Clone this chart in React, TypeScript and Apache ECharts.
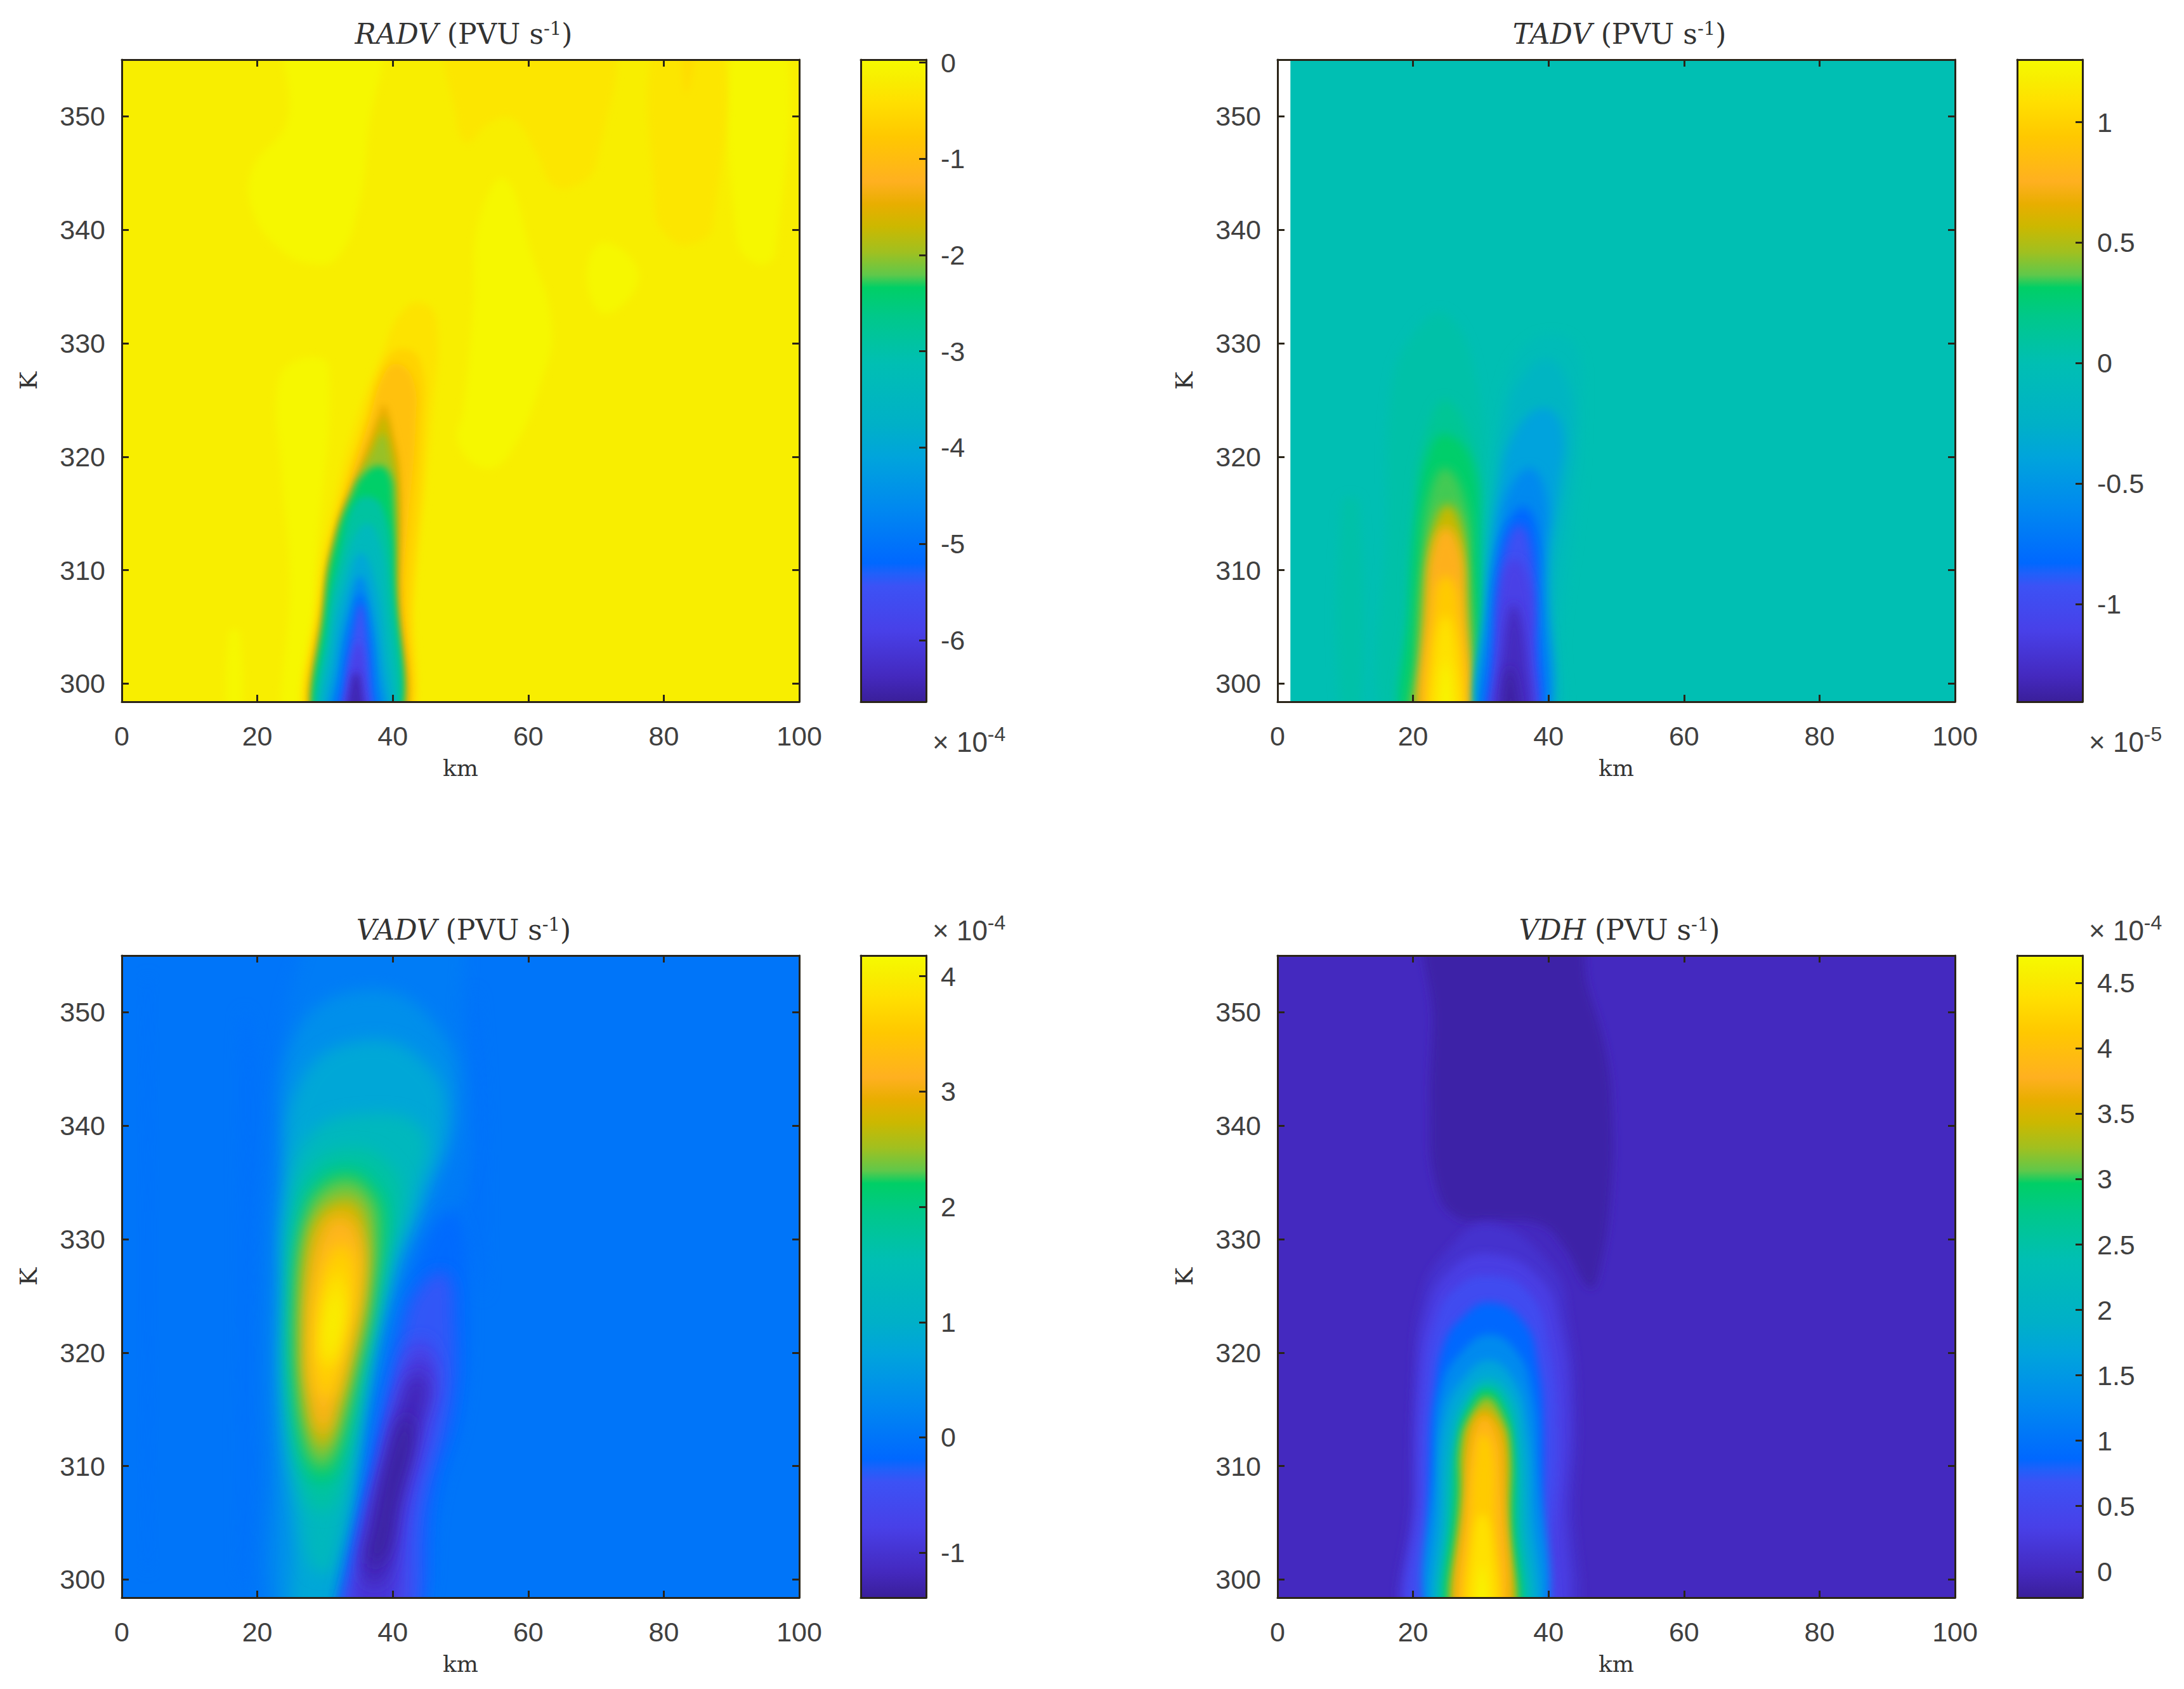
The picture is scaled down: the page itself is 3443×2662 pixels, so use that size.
import React, { useEffect, useRef } from "react";
import * as echarts from "echarts";

type Pt = [number, number];

const xTicks = [0, 20, 40, 60, 80, 100];
const kTicks = [300, 310, 320, 330, 340, 350];
const kMin = 298.4;
const kMax = 355;

const colorStops: [number, string][] = [
  [0, "#3a1f9a"], [0.04, "#4429bf"], [0.11, "#4840e8"], [0.18, "#3c52f5"], [0.2, "#1f60fa"],
  [0.216, "#0068ff"], [0.3, "#0088f0"], [0.38, "#00a4dc"], [0.43, "#00b0c8"], [0.527, "#00bfb3"],
  [0.6, "#00c88a"], [0.645, "#00cf66"], [0.665, "#60c84a"], [0.7, "#a0c020"], [0.74, "#ccb800"],
  [0.775, "#e8ae00"], [0.81, "#ffb020"], [0.88, "#ffc800"], [0.935, "#ffe000"], [0.97, "#f8ee00"], [1, "#f6fa00"],
];

// RADV (x 1e-4)
const radvRange = [-6.64, 0.03];
const radvTicks = [-6, -5, -4, -3, -2, -1, 0];
const radvBg = -0.17;
const radvLevels = [
  -0.02, -0.02, -0.02, -0.02, -0.02, -0.02, -0.3, -0.3, -0.45,
  -0.35, -0.6, -0.9, -1.45, -1.75, -2.0, -2.35, -2.9, -3.4, -4, -4.6, -5.1, -5.45, -5.9, -6.45,
];
const radvContours: Pt[][] = [
  [[24.8, 358], [24.4, 349.6], [19.3, 345.4], [19.3, 341.7], [23.2, 338.4], [27.9, 337], [31.7, 337.5], [34.8, 341.7], [36.4, 348.7], [37.6, 358]],
  [[56.5, 344.5], [52.7, 340.8], [51.9, 333.3], [50.4, 324], [49.6, 321.3], [53.5, 319], [57.3, 320.3], [62, 326.8], [63.5, 331.5], [60.4, 338]],
  [[71.3, 338.9], [68.6, 336.1], [71.3, 332.6], [76.3, 335.9]],
  [[27.1, 328.7], [23.2, 326.8], [23.6, 318.5], [24.8, 309.2], [24, 295], [29, 295], [28.6, 309], [30.6, 327.8]],
  [[15.8, 295], [15.8, 304.5], [17.4, 304.5], [17.4, 295]],
  [[90.7, 358], [90.7, 339.4], [93.8, 337], [96.5, 338], [97.7, 358]],
  [[49.2, 358], [49.6, 349], [51.1, 347.7], [54.2, 349.4], [57.7, 349.8], [61.2, 346.8], [63.5, 344], [66.6, 343.8], [70.1, 345.9], [70.9, 358]],
  [[79.4, 358], [78.7, 341.7], [80.6, 339.4], [83.7, 338.7], [87.2, 340.3], [88, 358]],
  [[82.9, 358], [83.3, 352], [84.9, 358]],
  [[28, 295], [28.8, 308], [31.7, 317], [34.8, 323.6], [38.7, 329.5], [41, 332.5], [44, 333.6], [46.5, 332], [45.7, 323], [43.2, 308], [41.4, 295]],
  [[28.6, 295], [29.6, 308], [32.5, 316.5], [35.8, 323], [38.5, 328], [41, 329.5], [44, 328.5], [44.6, 323], [42.8, 308], [41, 295]],
  [[29, 295], [30.2, 309.2], [33.3, 317], [36.4, 323], [38.7, 327.3], [40.7, 328.2], [43, 326.8], [43.4, 323], [42.2, 313.8], [41.6, 309.2], [40.7, 295]],
  [[29.1, 295], [29.9, 306.9], [31.9, 313.8], [34.8, 318.5], [37.5, 323], [38.7, 324.6], [39.9, 322.5], [41, 318.5], [41, 309], [40.5, 295]],
  [[29.2, 295], [30, 307], [32, 313.5], [35, 318], [37.5, 322], [38.7, 323.5], [39.7, 321.5], [40.7, 318], [40.7, 309], [40.4, 295]],
  [[29.3, 295], [30.1, 307.5], [31.8, 313], [34.3, 317.5], [37, 320.5], [38.5, 322], [39.5, 320.5], [40.4, 317], [40.3, 309], [40.1, 295]],
  [[29.4, 295], [30.2, 307.8], [31.7, 312.9], [34.1, 316.8], [35.5, 318.3], [37.9, 319.2], [39.5, 318.5], [40.1, 316.2], [40.3, 309.2], [39.9, 295]],
  [[29.6, 295], [30.4, 306], [32.3, 312], [34, 315.5], [36, 316.5], [38.5, 315.5], [39.9, 310], [39.7, 295]],
  [[30, 295], [30.8, 305], [32.8, 310.5], [35.5, 314], [37.5, 313.5], [39.2, 308], [39.3, 295]],
  [[30.5, 295], [31.3, 304], [33.3, 309], [35.2, 311.5], [36.9, 310], [38.6, 304], [38.8, 295]],
  [[31, 295], [31.9, 302], [33.8, 307.5], [35.2, 309.5], [36.5, 307.5], [37.9, 302], [38.2, 295]],
  [[31.6, 295], [32.4, 301], [34.2, 306.5], [35.2, 308], [36.2, 306], [37.4, 300], [37.6, 295]],
  [[32.2, 295], [32.9, 300], [34.5, 305.5], [35.3, 307], [36, 305], [36.7, 300], [37, 295]],
  [[32.8, 295], [33.4, 300], [34.7, 303.5], [35.2, 303.5], [36, 300], [36.3, 295]],
  [[33.2, 295], [33.8, 300], [34.6, 301], [35.3, 300], [35.7, 295]],
];

// TADV (x 1e-5)
const tadvRange = [-1.406, 1.26];
const tadvTicks = [-1, -0.5, 0, 0.5, 1];
const tadvBg = 0;
const tadvLevels = [
  0.05, 0.05, 0.14, 0.3, 0.35, 0.55, 0.75, 0.95, 1.1, 1.24,
  -0.06, -0.18, -0.4, -0.6, -0.83, -0.95, -1.12, -1.3, -1.38,
];
const tadvContours: Pt[][] = [
  [[9.5, 295], [9.5, 316], [12, 316], [12, 295]],
  [[24.9, 332.6], [19.1, 330], [16.6, 325], [16.1, 315], [16.5, 295], [29.5, 295], [30.3, 315], [29.9, 325]],
  [[24.9, 325], [21.6, 321.5], [20, 315], [19.2, 307], [19, 295], [29.8, 295], [30, 312], [29.2, 320]],
  [[24.8, 322], [22.4, 320.5], [20.7, 315], [19.7, 307.6], [19.5, 295], [29.5, 295], [29.5, 312.6], [28.7, 319.5]],
  [[24.8, 319], [22.4, 316.6], [21.2, 311.3], [20.3, 302.6], [20.2, 295], [28.7, 295], [28.5, 310], [27.8, 315.8]],
  [[25.1, 315.8], [23.2, 314.2], [22, 310], [21.4, 302.6], [21, 295], [28.3, 295], [28, 302.6], [27.8, 310], [27, 314.2]],
  [[24.8, 313.8], [22.8, 311.8], [22, 307.6], [21.6, 295], [27.8, 295], [27.6, 307.6], [27, 311.8]],
  [[24.8, 309.5], [23.2, 307.6], [22.6, 295], [27, 295], [26.6, 307.6]],
  [[24.8, 306], [23.2, 302.6], [23, 295], [26.6, 295], [26.4, 302.6]],
  [[24.8, 302], [24.1, 295], [25.8, 295]],
  [[40.4, 330.8], [36.2, 329.6], [33.7, 327], [32.4, 322.6], [31.6, 315], [30.8, 307], [30.3, 295], [40.8, 295], [42, 305], [44.1, 315], [45, 325], [44.1, 329.6]],
  [[39.9, 328.6], [35.8, 326.8], [33.7, 323.8], [32.2, 317.6], [31.2, 307.6], [30.8, 295], [39.9, 295], [40.8, 307.6], [42.4, 315], [43.7, 321.3], [42.9, 326.3]],
  [[39.1, 324.3], [34.9, 322], [32.8, 317.6], [31.2, 310], [30.6, 295], [39.1, 295], [39.9, 310], [41.6, 317.6], [42, 322.6]],
  [[37.4, 319], [34.1, 317], [32.4, 312.6], [31.2, 307.6], [30.8, 295], [39.1, 295], [39.5, 311.3], [39.7, 316.3]],
  [[36.4, 315.6], [34.1, 314.3], [32.6, 311.3], [31.6, 305], [31, 295], [38.3, 295], [38.5, 307.6], [38.3, 313.6]],
  [[35.8, 314], [33.7, 312.1], [32.6, 307.6], [31.6, 300], [31.2, 295], [37.6, 295], [38, 305], [37.6, 311.3]],
  [[35.1, 311], [33.1, 309], [32.4, 302.6], [31.8, 295], [37.2, 295], [37.6, 302.6], [37.4, 308]],
  [[34.9, 307], [33.5, 304], [32.7, 295], [36.8, 295], [36.6, 303]],
  [[34.3, 301.5], [33.3, 295], [35.8, 295]],
];

// VADV (x 1e-4)
const vadvRange = [-1.39, 4.18];
const vadvTicks = [-1, 0, 1, 2, 3, 4];
const vadvBg = 0;
const vadvLevels = [
  -0.09, -0.06, -0.06,
  0.1, 0.4, 0.8, 1.3, 1.7, 2.1, 2.35, 2.8, 3.2, 3.6, 3.9, 4.1,
  -0.15, -0.35, -0.7, -0.95, -1.2, -1.36,
];
const vadvContours: Pt[][] = [
  [[3.5, 353], [4.2, 353], [4.2, 301], [3.5, 301]],
  [[17.8, 350], [19.8, 346], [19, 320], [18.8, 300], [17.6, 300], [17.6, 330]],
  [[52, 352], [53.6, 340], [53.4, 325], [52, 330]],
  [[29.4, 358], [48.2, 358], [50.3, 349], [51.5, 341.5], [50.3, 334], [45.7, 330.2], [41.1, 322.7], [36.5, 311.5], [32.7, 295], [22.3, 295], [21, 311.5], [21, 326.5], [21.9, 337.7], [24, 349], [26, 354]],
  [[36.5, 352], [25.6, 348], [23.6, 335.8], [22.7, 326.5], [22.7, 311.5], [24, 295], [31.9, 295], [36.5, 315.2], [40.7, 326.5], [45.7, 334], [49.4, 341.5], [46.9, 348.5]],
  [[35.7, 347.5], [26.5, 344], [24, 334], [23.6, 326.5], [23.6, 315.2], [25.2, 304], [26, 295], [31.5, 295], [35.7, 315.2], [39.8, 326.5], [44, 333.2], [47.8, 340.5], [44.9, 345.5]],
  [[35.2, 341], [27.3, 338.8], [24.8, 332.5], [24.4, 326.5], [24.4, 315.2], [26.5, 305.8], [28.2, 301], [31.1, 301], [35.3, 315.2], [39.4, 327.2], [43.2, 334], [44.4, 339.6]],
  [[34.4, 338], [28.2, 336.6], [25.2, 332], [24.8, 324.6], [25, 315.2], [27.3, 307.3], [29.8, 306], [32.3, 308], [35.7, 319], [39, 328], [41.1, 334], [39.4, 336.6]],
  [[33.6, 336.2], [29, 335], [26.5, 331], [25.2, 323.5], [25.6, 315.2], [27.7, 309.2], [29.8, 308.5], [31.9, 310], [35.2, 319], [38.2, 328], [39, 332.5], [36.9, 335]],
  [[33.2, 335.3], [29.4, 334.3], [27.3, 332], [26, 326.5], [25.9, 319], [27.3, 311.5], [29.6, 309.8], [31.7, 311.6], [34.4, 318.2], [36.7, 324.6], [37.8, 331.7], [36.1, 334.3]],
  [[32.8, 333.6], [29.4, 332.5], [27.3, 329.5], [26.7, 322.7], [26.9, 317], [28.6, 312], [30, 311.5], [31.9, 314.5], [34, 319], [35.9, 324.6], [36.1, 331], [34.8, 333.2]],
  [[32.3, 332], [29.8, 331], [27.9, 326.5], [27.3, 320.8], [28.1, 315.6], [29.8, 313], [31.9, 316.7], [34, 321.6], [35.5, 326.5], [35, 330.6]],
  [[31.9, 329.5], [29.4, 326.5], [28.4, 320.8], [29, 316.7], [30.7, 316], [32.7, 320.5], [34.4, 325.3], [34, 328.7]],
  [[31.7, 327.2], [30, 324], [29.4, 320], [30.7, 318.6], [32.3, 321.2], [33, 325]],
  [[31.5, 325.3], [30.5, 322.7], [30.5, 319.7], [31.3, 320.5], [32.1, 323.5]],
  [[48.6, 332.5], [45.3, 330.2], [41.1, 322.7], [36.5, 309.6], [32.7, 295], [42.8, 295], [46.9, 307.7], [50.3, 315.2], [51.1, 326.5], [50.3, 331]],
  [[44, 325.7], [41.5, 322], [37.8, 311.5], [33.6, 300], [32.7, 295], [42.3, 295], [45.3, 307.7], [48.6, 315.2], [49, 322.7], [47.8, 327]],
  [[44, 321.2], [41.1, 318.2], [37.8, 309.6], [34.8, 302], [33.2, 295], [40.7, 295], [42.8, 305.8], [45.7, 313.3], [46.5, 319]],
  [[43.6, 319.7], [41.1, 315.2], [38.6, 309.6], [35.7, 302.5], [34.4, 295], [39, 295], [41.1, 305.8], [44, 313.3], [45.7, 318.2]],
  [[43.2, 318], [40.7, 314.5], [38.8, 310.3], [36.7, 305], [35.7, 300], [38.8, 300], [41, 307], [43.6, 313], [45, 317]],
  [[42, 314.5], [39.6, 310.5], [37.6, 305], [36.6, 301.5], [38.6, 302], [40.6, 307], [42.8, 312.5]],
];

// VDH (x 1e-4)
const vdhRange = [-0.2, 4.71];
const vdhTicks = [0, 0.5, 1, 1.5, 2, 2.5, 3, 3.5, 4, 4.5];
const vdhBg = 0;
const vdhLevels = [
  -0.13, 0.12, 0.3, 0.55, 0.85, 1.3, 1.7, 2.1, 2.6, 2.95, 3.25, 3.6, 3.85, 4.15, 4.4, 4.65,
];
const vdhContours: Pt[][] = [
  [[23.3, 358], [43, 358], [45.9, 352], [48.4, 346.7], [49.4, 341.5], [49.2, 334], [47.5, 327.2], [46.1, 325.7], [42.1, 329.5], [38.8, 331.3], [32.1, 331.7], [26.3, 332], [23.3, 335], [22.5, 341.5], [22.9, 349]],
  [[31.3, 331.3], [24.6, 328.7], [21.2, 324.6], [20, 317], [19.6, 307.7], [20, 295], [42.1, 295], [43.8, 307.7], [44.2, 315.2], [43, 322.7], [40.5, 327.6]],
  [[31.3, 328.7], [25.4, 327.2], [22.1, 323.5], [20.6, 317], [20.4, 307.7], [20.4, 295], [40.4, 295], [42.5, 307.7], [43, 315.2], [41.7, 322], [38.8, 326.5]],
  [[31.3, 326.8], [26.3, 325.7], [23.3, 322.7], [21.7, 317], [21, 307.7], [21.2, 295], [38.8, 295], [40.5, 304], [41.3, 313.3], [40, 320.8], [37.1, 325.3]],
  [[31.3, 324.4], [27.1, 323], [24.6, 320.8], [23.3, 317], [22.5, 311.5], [22.5, 300], [23.1, 295], [38, 295], [38.8, 304], [39.2, 313.3], [38.4, 319], [36.3, 322.7]],
  [[31.3, 321.6], [27.1, 320], [24.2, 317], [23.3, 311.5], [23.3, 295], [38, 295], [38.4, 311.5], [37.5, 316.7], [35.4, 320]],
  [[31.3, 319.3], [27.5, 317.8], [24.6, 314.5], [23.7, 307.7], [24.2, 295], [37.1, 295], [37.5, 307.7], [36.7, 314], [35, 317.5]],
  [[31.3, 317.8], [27.9, 316.3], [25.4, 312.6], [24.6, 305.8], [24.8, 295], [36.3, 295], [36.5, 305.8], [35.9, 312.6], [34.6, 316]],
  [[31.1, 317], [28.3, 315.6], [26.7, 312.6], [25.4, 305.8], [25.4, 295], [35.4, 295], [35.4, 305.8], [34.8, 312.2], [33.8, 315.6]],
  [[30.9, 316.7], [28.5, 315.2], [26.9, 312.6], [26.3, 307.7], [25.8, 295], [34.6, 295], [34.8, 305.8], [34.6, 312.2], [33.4, 314.8]],
  [[30.9, 316.1], [28.8, 314.8], [27.1, 312.2], [26.9, 307.7], [26.3, 295], [34.2, 295], [34.2, 305.8], [34.2, 311.8], [33.1, 314.5]],
  [[30.4, 315], [28.5, 313.7], [27.7, 311.5], [27.7, 307.7], [26.7, 295], [33.8, 295], [33.8, 305.8], [33.8, 311.8], [32.5, 314]],
  [[30.4, 314.3], [28.8, 312.6], [27.9, 307.7], [27.1, 295], [33.1, 295], [33.1, 309.6], [32.3, 313]],
  [[30.2, 312.8], [29.2, 310.7], [28.5, 305.8], [27.9, 295], [32.5, 295], [32.1, 305.8], [31.7, 311.5]],
  [[30.2, 305.8], [29, 304], [28.5, 295], [31.9, 295], [31.5, 304]],
  [[30.2, 301.3], [29.4, 295], [31, 295]],
];

const FONT = "Liberation Sans";
const SERIF = "DejaVu Serif";
const LABEL = "#404040";
const LINE = "#2a2418";

function colorAt(v: number, range: number[]): string {
  const t = Math.min(1, Math.max(0, (v - range[0]) / (range[1] - range[0])));
  let i = 0;
  while (i < colorStops.length - 2 && colorStops[i + 1][0] < t) i++;
  const [t0, c0] = colorStops[i];
  const [t1, c1] = colorStops[i + 1];
  const f = (t - t0) / (t1 - t0);
  const a = echarts.color.parse(c0);
  const b = echarts.color.parse(c1);
  return `rgb(${[0, 1, 2].map((k) => Math.round(a[k] + (b[k] - a[k]) * f)).join(",")})`;
}

interface PanelDef {
  name: string;
  left: number;
  top: number;
  barLeft: number;
  range: number[];
  ticks: number[];
  bg: number;
  bgFrom: number;
  levels: number[];
  contours: Pt[][];
  exponent: string;
  expTop: number;
  feather: number;
}

const PW = 1068;
const PH = 1012;
const BW = 103;

const panels: PanelDef[] = [
  { name: "RADV", left: 192, top: 94, barLeft: 1357, range: radvRange, ticks: radvTicks, bg: radvBg, bgFrom: -3, levels: radvLevels, contours: radvContours, exponent: "-4", expTop: 1166, feather: 6 },
  { name: "TADV", left: 2014, top: 94, barLeft: 3180, range: tadvRange, ticks: tadvTicks, bg: tadvBg, bgFrom: 1.9, levels: tadvLevels, contours: tadvContours, exponent: "-5", expTop: 1166, feather: 8 },
  { name: "VADV", left: 192, top: 1506, barLeft: 1357, range: vadvRange, ticks: vadvTicks, bg: vadvBg, bgFrom: -3, levels: vadvLevels, contours: vadvContours, exponent: "-4", expTop: 1463, feather: 12 },
  { name: "VDH", left: 2014, top: 1506, barLeft: 3180, range: vdhRange, ticks: vdhTicks, bg: vdhBg, bgFrom: -3, levels: vdhLevels, contours: vdhContours, exponent: "-4", expTop: 1463, feather: 7 },
];

function buildOption() {
  const grid: any[] = [];
  const xAxis: any[] = [];
  const yAxis: any[] = [];
  const series: any[] = [];
  const title: any[] = [];
  const lineStyle = { color: LINE, width: 3 };
  const tick = { show: true, inside: true, length: 11, lineStyle: { color: LINE, width: 3 } };
  const labelStyle = { color: LABEL, fontFamily: FONT, fontSize: 43 };

  panels.forEach((p) => {
    const gi = grid.length;
    grid.push({ left: p.left, top: p.top, width: PW, height: PH, containLabel: false });
    const xi = xAxis.length;
    const yi = yAxis.length;
    xAxis.push({
      type: "value", gridIndex: gi, position: "bottom", min: 0, max: 100, z: 10,
      splitLine: { show: false }, axisLine: { show: true, onZero: false, lineStyle },
      axisTick: { ...tick, customValues: xTicks },
      axisLabel: { ...labelStyle, margin: 32, customValues: xTicks },
      name: "km", nameLocation: "middle", nameGap: 86,
      nameTextStyle: { color: "#333", fontFamily: SERIF, fontSize: 36 },
    });
    xAxis.push({
      type: "value", gridIndex: gi, position: "top", min: 0, max: 100, z: 10,
      splitLine: { show: false }, axisLine: { show: true, onZero: false, lineStyle },
      axisTick: { ...tick, customValues: xTicks }, axisLabel: { show: false },
    });
    yAxis.push({
      type: "value", gridIndex: gi, position: "left", min: kMin, max: kMax, z: 10,
      splitLine: { show: false }, axisLine: { show: true, onZero: false, lineStyle },
      axisTick: { ...tick, customValues: kTicks },
      axisLabel: { ...labelStyle, margin: 26, customValues: kTicks },
      name: "K", nameLocation: "middle", nameGap: 128, nameRotate: 90,
      nameTextStyle: { color: "#333", fontFamily: SERIF, fontSize: 38 },
    });
    yAxis.push({
      type: "value", gridIndex: gi, position: "right", min: kMin, max: kMax, z: 10,
      splitLine: { show: false }, axisLine: { show: true, onZero: false, lineStyle },
      axisTick: { ...tick, customValues: kTicks }, axisLabel: { show: false },
    });

    const polys: { value: number; pts: Pt[]; base: boolean }[] = [
      {
        value: p.bg,
        pts: [[p.bgFrom, 295], [p.bgFrom, 358], [103, 358], [103, 295]],
        base: true,
      },
      ...p.contours.map((pts, i) => ({ value: p.levels[i], pts, base: false })),
    ];
    series.push({
      type: "custom", name: p.name, xAxisIndex: xi, yAxisIndex: yi, clip: true, z: 2,
      coordinateSystem: "cartesian2d", silent: true,
      data: polys.map((q, i) => [q.value, i]),
      renderItem: (_: any, api: any) => {
        const q = polys[api.value(1)];
        const fill = colorAt(q.value, p.range);
        return {
          type: "polygon",
          shape: { points: q.pts.map((c) => api.coord(c)), smooth: q.base ? 0 : 0.45 },
          // the drop-shadow filter zrender emits for this is turned into a plain blur after setOption
          style: q.base ? { fill } : { fill, shadowBlur: p.feather * 2, shadowColor: fill },
        };
      },
    });

    // colour bar
    const gb = grid.length;
    grid.push({ left: p.barLeft, top: p.top, width: BW, height: PH, containLabel: false });
    const xb = xAxis.length;
    const yb = yAxis.length;
    const barAxis = { show: true, onZero: false, lineStyle };
    xAxis.push({ type: "value", gridIndex: gb, position: "bottom", min: 0, max: 1, z: 10, splitLine: { show: false }, axisLine: barAxis, axisTick: { show: false }, axisLabel: { show: false } });
    xAxis.push({ type: "value", gridIndex: gb, position: "top", min: 0, max: 1, z: 10, splitLine: { show: false }, axisLine: barAxis, axisTick: { show: false }, axisLabel: { show: false } });
    yAxis.push({
      type: "value", gridIndex: gb, position: "right", min: p.range[0], max: p.range[1], z: 10,
      splitLine: { show: false }, axisLine: barAxis,
      axisTick: { ...tick, customValues: p.ticks },
      axisLabel: { ...labelStyle, margin: 23, customValues: p.ticks },
    });
    yAxis.push({ type: "value", gridIndex: gb, position: "left", min: p.range[0], max: p.range[1], z: 10, splitLine: { show: false }, axisLine: barAxis, axisTick: { show: false }, axisLabel: { show: false } });
    series.push({
      type: "custom", name: p.name + " colorbar", xAxisIndex: xb, yAxisIndex: yb, clip: true, z: 2, silent: true,
      coordinateSystem: "cartesian2d",
      data: [[p.range[0], p.range[1]]],
      renderItem: (_: any, api: any) => {
        const a = api.coord([0, api.value(1)]);
        const b = api.coord([1, api.value(0)]);
        return {
          type: "rect",
          shape: { x: a[0], y: a[1], width: b[0] - a[0], height: b[1] - a[1] },
          style: {
            fill: new echarts.graphic.LinearGradient(0, 1, 0, 0, colorStops.map(([offset, color]) => ({ offset, color }))),
          },
        };
      },
    });

    title.push({
      text: `{i|${p.name}} (PVU s{sup|-1})`,
      left: p.left + PW / 2, top: p.top - 69, textAlign: "center",
      textStyle: {
        color: "#333", fontFamily: SERIF, fontSize: 44, fontWeight: "normal",
        rich: {
          i: { fontFamily: SERIF, fontStyle: "italic", fontSize: 44, color: "#333" },
          sup: { fontFamily: SERIF, fontSize: 29, color: "#333", padding: [0, 0, 18, 0] },
        },
      },
    });
    title.push({
      text: `× 10{sup|${p.exponent}}`,
      left: p.barLeft + 108, top: p.expTop - 30,
      textStyle: {
        color: LABEL, fontFamily: FONT, fontSize: 44, fontWeight: "normal",
        rich: { sup: { fontFamily: FONT, fontSize: 32, color: LABEL, padding: [0, 0, 24, 0] } },
      },
    });
  });

  return { animation: false, backgroundColor: "#ffffff", title, grid, xAxis, yAxis, series };
}

export default function App() {
  const ref = useRef<HTMLDivElement>(null);
  useEffect(() => {
    document.body.style.margin = "0";
    const chart = echarts.init(ref.current!, undefined, { renderer: "svg" });
    chart.setOption(buildOption() as any);
    const svgNS = "http://www.w3.org/2000/svg";
    ref.current!.querySelectorAll("feDropShadow").forEach((fe) => {
      const blur = document.createElementNS(svgNS, "feGaussianBlur");
      blur.setAttribute("stdDeviation", fe.getAttribute("stdDeviation") || "0");
      fe.replaceWith(blur);
    });
    return () => chart.dispose();
  }, []);
  return <div ref={ref} style={{ position: "absolute", left: 0, top: 0, width: 3443, height: 2662 }} />;
}
